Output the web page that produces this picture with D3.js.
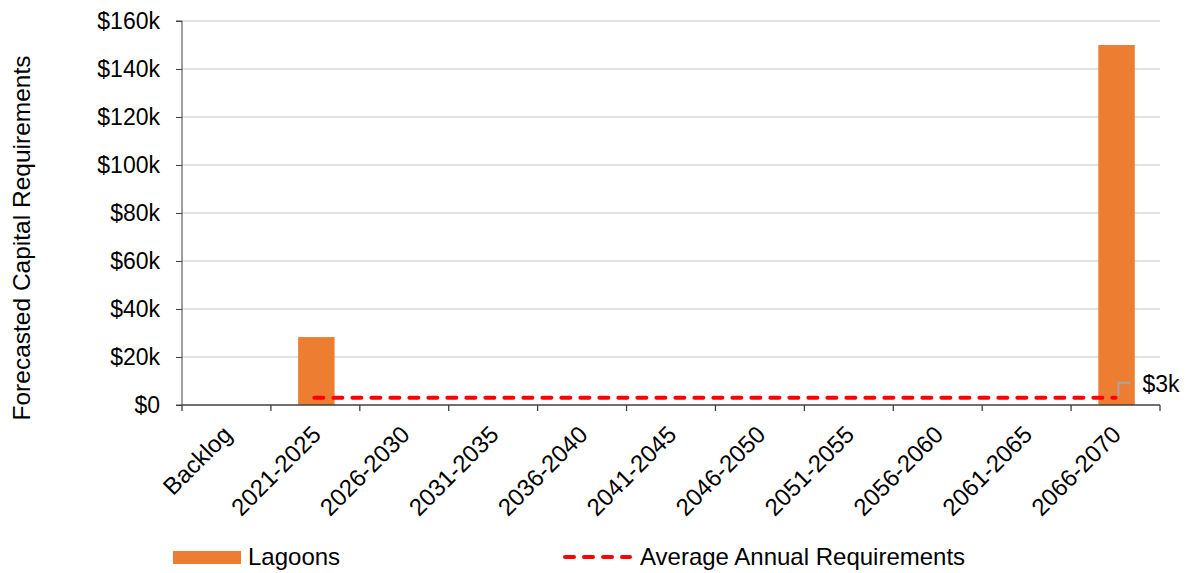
<!DOCTYPE html>
<html>
<head>
<meta charset="utf-8">
<script src="https://cdn.jsdelivr.net/npm/d3@7"></script>
<style>
  html, body { margin: 0; padding: 0; background: #fff; }
  svg { display: block; font-family: "Liberation Sans", Arial, sans-serif; }
</style>
</head>
<body>
<svg id="chart" width="1190" height="573"></svg>
<script>
// Forecasted capital requirements by 5-year period
const categories = ["Backlog", "2021-2025", "2026-2030", "2031-2035", "2036-2040", "2041-2045",
                    "2046-2050", "2051-2055", "2056-2060", "2061-2065", "2066-2070"];
const lagoons = [0, 28300, 0, 0, 0, 0, 0, 0, 0, 0, 150000];
const averageAnnual = 3000;
const averageLabel = "$3k";
const yTicks = [0, 20000, 40000, 60000, 80000, 100000, 120000, 140000, 160000];

const svg = d3.select("#chart");
const margin = { left: 182, right: 1160, top: 21, bottom: 405 };

const x = d3.scaleBand().domain(categories).range([margin.left, margin.right]).paddingInner(0).paddingOuter(0);
const y = d3.scaleLinear().domain([0, 160000]).range([margin.bottom, margin.top]);

// Horizontal gridlines
svg.append("g")
  .selectAll("line")
  .data(yTicks.filter(d => d > 0))
  .join("line")
  .attr("x1", margin.left).attr("x2", margin.right)
  .attr("y1", d => y(d)).attr("y2", d => y(d))
  .attr("stroke", "#d9d9d9").attr("stroke-width", 1.3);

// Bars
const barW = x.bandwidth() * 0.41;
svg.append("g")
  .selectAll("rect")
  .data(categories.map((c, i) => ({ c, v: lagoons[i] })).filter(d => d.v > 0))
  .join("rect")
  .attr("x", d => x(d.c) + x.bandwidth() / 2 - barW / 2 + 1)
  .attr("width", barW)
  .attr("y", d => y(d.v))
  .attr("height", d => y(0) - y(d.v))
  .attr("fill", "#ed7d31");

// Y axis
const yAxis = d3.axisLeft(y).tickValues(yTicks)
  .tickFormat(d => "$" + (d === 0 ? "0" : d / 1000 + "k"))
  .tickSize(6).tickPadding(16);
const gy = svg.append("g").attr("transform", `translate(${margin.left},0)`).call(yAxis);
gy.select(".domain").attr("stroke", "#404040").attr("d", `M-6,${margin.top}H0V${margin.bottom}H-6`);
gy.selectAll(".tick line").attr("stroke", "#404040");
gy.selectAll(".tick text")
  .attr("font-size", 23).attr("fill", "#000")
  .attr("font-family", "Liberation Sans, Arial, sans-serif");

// X axis with ticks at band boundaries
const gx = svg.append("g").attr("transform", `translate(0,${margin.bottom})`);
gx.append("line").attr("x1", margin.left).attr("x2", margin.right)
  .attr("stroke", "#404040").attr("stroke-width", 1.3);
const bounds = categories.map(c => x(c)).concat([margin.right]);
gx.selectAll("line.tk").data(bounds).join("line").attr("class", "tk")
  .attr("x1", d => d).attr("x2", d => d).attr("y1", 0).attr("y2", 6)
  .attr("stroke", "#404040").attr("stroke-width", 1.3);
gx.selectAll("text").data(categories).join("text")
  .attr("transform", d => `translate(${x(d) + x.bandwidth() / 2 + 7},${31}) rotate(-45)`)
  .attr("text-anchor", "end")
  .attr("font-size", 24)
  .attr("fill", "#000")
  .text(d => d);

// Average annual requirements line
const avgStart = x(categories[1]) + x.bandwidth() / 2 - 1;
const avgEnd = x(categories[categories.length - 1]) + x.bandwidth() / 2;
svg.append("line")
  .attr("x1", avgStart).attr("x2", avgEnd)
  .attr("y1", y(averageAnnual)).attr("y2", y(averageAnnual))
  .attr("stroke", "#ff0000").attr("stroke-width", 4)
  .attr("stroke-dasharray", "9,10").attr("stroke-linecap", "round");

// Value label with leader
const ly = y(averageAnnual);
svg.append("path")
  .attr("d", `M${avgEnd + 3},${ly - 2}V${ly - 15}H${avgEnd + 15}`)
  .attr("fill", "none").attr("stroke", "#a6a6a6").attr("stroke-width", 2);
svg.append("text")
  .attr("x", avgEnd + 27).attr("y", ly - 6)
  .attr("font-size", 23).attr("fill", "#000")
  .text(averageLabel);

// Y axis title
svg.append("text")
  .attr("transform", `translate(30,${238}) rotate(-90)`)
  .attr("text-anchor", "middle")
  .attr("font-size", 24.5).attr("fill", "#000")
  .text("Forecasted Capital Requirements");

// Legend
const lg = svg.append("g");
lg.append("rect").attr("x", 173).attr("y", 551).attr("width", 68).attr("height", 13).attr("fill", "#ed7d31");
lg.append("text").attr("x", 248).attr("y", 565)
  .attr("font-size", 24).attr("fill", "#000").text("Lagoons");
lg.append("line").attr("x1", 565).attr("x2", 630).attr("y1", 557).attr("y2", 557)
  .attr("stroke", "#ff0000").attr("stroke-width", 4).attr("stroke-dasharray", "9,10").attr("stroke-linecap", "round");
lg.append("text").attr("x", 640).attr("y", 565)
  .attr("font-size", 24).attr("fill", "#000").text("Average Annual Requirements");
</script>
</body>
</html>
